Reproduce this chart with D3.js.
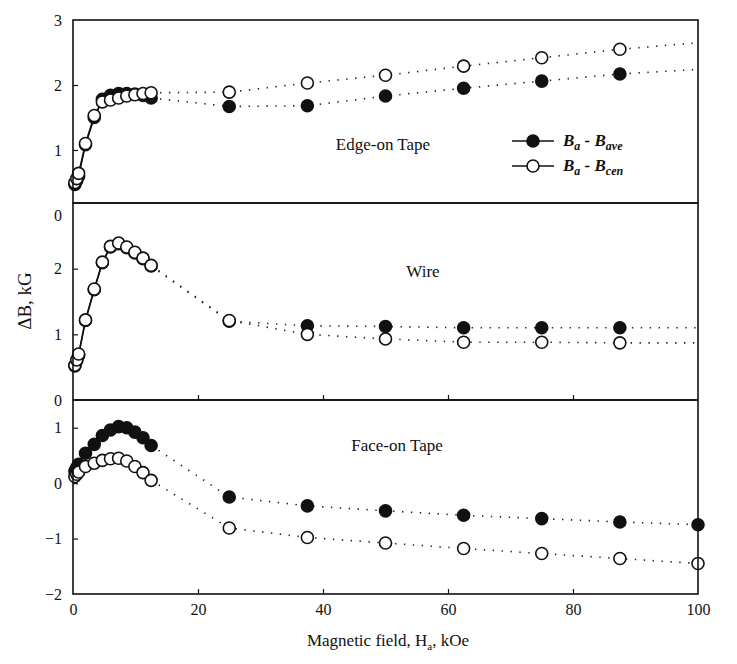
<!DOCTYPE html>
<html>
<head>
<meta charset="utf-8">
<script src="https://cdn.jsdelivr.net/npm/d3@7"></script>
<style>
  body { margin: 0; background: #fff; }
</style>
</head>
<body>
<div id="chart"></div>
<script>
// field values (kOe): dense low-field sweep, then the sparse high-field points
const lowX = [0.3, 0.6, 0.9, 2, 3.4, 4.7, 6, 7.3, 8.6, 9.9, 11.2, 12.5];
const highX = [25, 37.5, 50, 62.5, 75, 87.5, 100];
const xTicks = [0, 20, 40, 60, 80, 100];

// Edge-on tape
const edgeAveLow  = [0.47, 0.53, 0.60, 1.08, 1.50, 1.78, 1.84, 1.87, 1.87, 1.86, 1.84, 1.80];
const edgeCenLow  = [0.50, 0.56, 0.64, 1.10, 1.53, 1.74, 1.77, 1.80, 1.83, 1.85, 1.87, 1.88];
const edgeAveHigh = [1.67, 1.68, 1.83, 1.95, 2.06, 2.17, 2.24];
const edgeCenHigh = [1.89, 2.03, 2.15, 2.29, 2.42, 2.55, 2.65];

// Wire
const wireAveLow  = [0.52, 0.60, 0.68, 1.21, 1.68, 2.09, 2.33, 2.38, 2.32, 2.24, 2.15, 2.04];
const wireCenLow  = [0.53, 0.61, 0.70, 1.22, 1.69, 2.10, 2.34, 2.39, 2.33, 2.25, 2.16, 2.05];
const wireAveHigh = [1.20, 1.13, 1.12, 1.10, 1.10, 1.10, 1.10];
const wireCenHigh = [1.21, 1.00, 0.93, 0.88, 0.88, 0.87, 0.87];

// Face-on tape
const faceAveLow  = [0.22, 0.28, 0.34, 0.54, 0.70, 0.86, 0.96, 1.02, 1.00, 0.92, 0.82, 0.68];
const faceCenLow  = [0.12, 0.16, 0.20, 0.30, 0.36, 0.41, 0.44, 0.45, 0.40, 0.30, 0.19, 0.05];
const faceAveHigh = [-0.25, -0.41, -0.50, -0.58, -0.64, -0.70, -0.75];
const faceCenHigh = [-0.81, -0.98, -1.08, -1.18, -1.27, -1.36, -1.45];

const FONT = '"Liberation Serif", "Times New Roman", serif';
const W = 737, H = 664;
const svg = d3.select('#chart').append('svg').attr('width', W).attr('height', H)
  .attr('font-family', FONT);

const x = d3.scaleLinear().domain([0, 100]).range([73, 698]);
const R = 6;

const panels = [
  { title: 'Edge-on Tape', tx: 383, ty: 150, top: 20, bottom: 203,
    y: d3.scaleLinear().domain([0, 3]).range([215, 20]), ticks: [0, 1, 2, 3],
    ave: [edgeAveLow, edgeAveHigh], cen: [edgeCenLow, edgeCenHigh], endMark: false, xTickMarks: false },
  { title: 'Wire', tx: 423, ty: 277, top: 203, bottom: 400,
    y: d3.scaleLinear().domain([0, 3]).range([400, 203]), ticks: [0, 1, 2],
    ave: [wireAveLow, wireAveHigh], cen: [wireCenLow, wireCenHigh], endMark: false, xTickMarks: true },
  { title: 'Face-on Tape', tx: 397, ty: 451, top: 400, bottom: 594,
    y: d3.scaleLinear().domain([-2, 1.5]).range([594, 400]), ticks: [-2, -1, 0, 1],
    ave: [faceAveLow, faceAveHigh], cen: [faceCenLow, faceCenHigh], endMark: true, xTickMarks: true }
];

panels.forEach(p => {
  const g = svg.append('g');
  const y = p.y;
  const line = d3.line().x(d => x(d[0])).y(d => y(d[1]));

  // left axis, ticks inside
  const ax = g.append('g').attr('transform', `translate(${x(0)},0)`)
    .call(d3.axisLeft(y).tickValues(p.ticks).tickSize(-5).tickPadding(11).tickFormat(d3.format('d')))
    .attr('font-family', FONT);
  ax.select('.domain').remove();
  ax.selectAll('.tick line').attr('stroke', '#111').attr('stroke-width', 1.2)
    .filter(d => y(d) > p.bottom - 1 || y(d) < p.top + 1).remove();
  ax.selectAll('.tick text').attr('font-size', 16).attr('fill', '#111');

  if (p.xTickMarks) {
    const bx = g.append('g').attr('transform', `translate(0,${p.bottom})`)
      .call(d3.axisBottom(x).tickValues(xTicks.slice(1, -1)).tickSize(-5).tickFormat(''));
    bx.select('.domain').remove();
    bx.selectAll('.tick line').attr('stroke', '#111').attr('stroke-width', 1.2);
  }

  const series = [
    { vals: p.ave, fill: '#111' },
    { vals: p.cen, fill: '#fff' }
  ];

  series.forEach(s => {
    const low = lowX.map((v, i) => [v, s.vals[0][i]]);
    const high = highX.map((v, i) => [v, s.vals[1][i]]);
    g.append('path').attr('d', line(low)).attr('fill', 'none')
      .attr('stroke', '#111').attr('stroke-width', 1.5);
    g.append('path').attr('d', line([low[low.length - 1]].concat(high))).attr('fill', 'none')
      .attr('stroke', '#222').attr('stroke-width', 1.6)
      .attr('stroke-dasharray', '1.4 7.5');
  });

  series.forEach(s => {
    let pts = lowX.map((v, i) => [v, s.vals[0][i]])
      .concat(highX.map((v, i) => [v, s.vals[1][i]]));
    if (!p.endMark) pts = pts.filter(d => d[0] < 100);
    g.selectAll(null).data(pts).enter().append('circle')
      .attr('cx', d => x(d[0])).attr('cy', d => y(d[1])).attr('r', R)
      .attr('fill', s.fill).attr('stroke', '#111').attr('stroke-width', 1.6);
  });

  g.append('text').attr('x', p.tx).attr('y', p.ty).attr('text-anchor', 'middle')
    .attr('font-size', 17).attr('fill', '#111').text(p.title);

  // panel frame
  g.append('rect').attr('x', x(0)).attr('y', p.top)
    .attr('width', x(100) - x(0)).attr('height', p.bottom - p.top)
    .attr('fill', 'none').attr('stroke', '#111').attr('stroke-width', 1.6);
});

// x axis labels along the bottom panel
const xa = svg.append('g').attr('transform', `translate(0,594)`)
  .call(d3.axisBottom(x).tickValues(xTicks).tickSize(0).tickPadding(10))
  .attr('font-family', FONT);
xa.select('.domain').remove();
xa.selectAll('.tick text').attr('font-size', 16).attr('fill', '#111');

// legend
const legend = [
  { fill: '#111', sub: 'ave' },
  { fill: '#fff', sub: 'cen' }
];
legend.forEach((l, i) => {
  const ly = 141 + i * 25;
  svg.append('line').attr('x1', 512).attr('x2', 554).attr('y1', ly).attr('y2', ly)
    .attr('stroke', '#111').attr('stroke-width', 1.5);
  svg.append('circle').attr('cx', 533).attr('cy', ly).attr('r', R)
    .attr('fill', l.fill).attr('stroke', '#111').attr('stroke-width', 1.6);
  const t = svg.append('text').attr('x', 563).attr('y', ly + 5).attr('fill', '#111')
    .attr('font-size', 17).attr('font-style', 'italic').attr('font-weight', 'bold');
  t.append('tspan').text('B');
  t.append('tspan').attr('font-size', 12).attr('dy', 4).text('a');
  t.append('tspan').attr('dy', -4).text(' - B');
  t.append('tspan').attr('font-size', 12).attr('dy', 4).text(l.sub);
});

// axis titles
svg.append('text').attr('transform', 'translate(31,301) rotate(-90)')
  .attr('text-anchor', 'middle').attr('font-size', 19).attr('fill', '#111').text('ΔB, kG');

const xt = svg.append('text').attr('x', 388).attr('y', 646).attr('fill', '#111')
  .attr('text-anchor', 'middle').attr('font-size', 17);
xt.append('tspan').text('Magnetic field, H');
xt.append('tspan').attr('font-size', 11).attr('dy', 4).text('a');
xt.append('tspan').attr('dy', -4).text(', kOe');
</script>
</body>
</html>
